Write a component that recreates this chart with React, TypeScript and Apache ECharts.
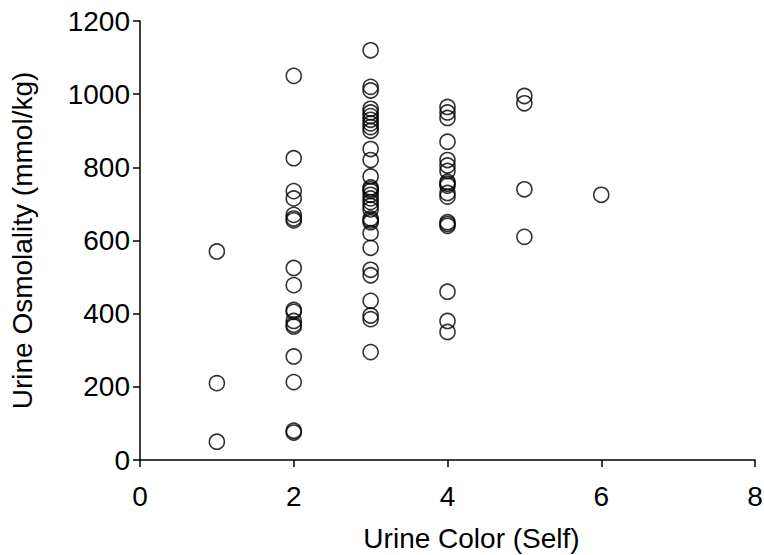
import React, { useEffect, useRef } from "react";
import * as echarts from "echarts";

const color1 = [570, 210, 50];
const color2 = [1050, 825, 735, 715, 670, 660, 655, 525, 478, 410, 405, 380, 370, 365, 283, 213, 80, 75];
const color3 = [1120, 1020, 1010, 960, 950, 940, 930, 920, 910, 900, 850, 820, 775, 745, 740, 735, 725, 715, 705, 695, 685, 660, 655, 650, 620, 580, 520, 505, 435, 395, 385, 295];
const color4 = [965, 950, 935, 870, 820, 805, 790, 760, 755, 750, 730, 720, 650, 645, 640, 460, 380, 350];
const color5 = [995, 975, 740, 610];
const color6 = [725];

const groups: [number, number[]][] = [
  [1, color1],
  [2, color2],
  [3, color3],
  [4, color4],
  [5, color5],
  [6, color6],
];

export default function App() {
  const ref = useRef<HTMLDivElement>(null);
  useEffect(() => {
    if (!ref.current) return;
    const chart = echarts.init(ref.current, undefined, { renderer: "svg" });
    const data: number[][] = [];
    groups.forEach(([x, ys]) => ys.forEach((y) => data.push([x, y])));
    const font = "'Liberation Sans', Arial, sans-serif";
    chart.setOption({
      animation: false,
      backgroundColor: "#ffffff",
      grid: { left: 140, right: 9, top: 21, bottom: 95, containLabel: false, outerBoundsMode: "none" },
      xAxis: {
        type: "value",
        min: 0,
        max: 8,
        interval: 2,
        name: "Urine Color (Self)",
        nameLocation: "middle",
        nameGap: 64,
        nameTextStyle: { color: "#000", fontSize: 28, fontFamily: font, padding: [0, 0, 0, 48] },
        axisLine: { show: true, lineStyle: { color: "#000", width: 1.5 } },
        axisTick: { show: true, length: 7, inside: false, lineStyle: { color: "#000", width: 1.5 } },
        axisLabel: { color: "#000", fontSize: 28, fontFamily: font, margin: 22, formatter: (v: number) => String(v) },
        splitLine: { show: false },
      },
      yAxis: {
        type: "value",
        min: 0,
        max: 1200,
        interval: 200,
        name: "Urine Osmolality (mmol/kg)",
        nameLocation: "middle",
        nameGap: 104,
        nameRotate: 90,
        nameTextStyle: { color: "#000", fontSize: 28, fontFamily: font },
        axisLine: { show: true, lineStyle: { color: "#000", width: 1.5 } },
        axisTick: { show: true, length: 7, inside: false, lineStyle: { color: "#000", width: 1.5 } },
        axisLabel: { color: "#000", fontSize: 28, fontFamily: font, margin: 10, formatter: (v: number) => String(v) },
        splitLine: { show: false },
      },
      series: [
        {
          type: "scatter",
          data,
          symbol: "circle",
          symbolSize: 15,
          itemStyle: { color: "rgba(255,255,255,0)", borderColor: "#000", borderWidth: 1.6 },
        },
      ],
    });
    return () => chart.dispose();
  }, []);
  return <div ref={ref} style={{ width: 764, height: 555, position: "absolute", left: 0, top: 0 }} />;
}
